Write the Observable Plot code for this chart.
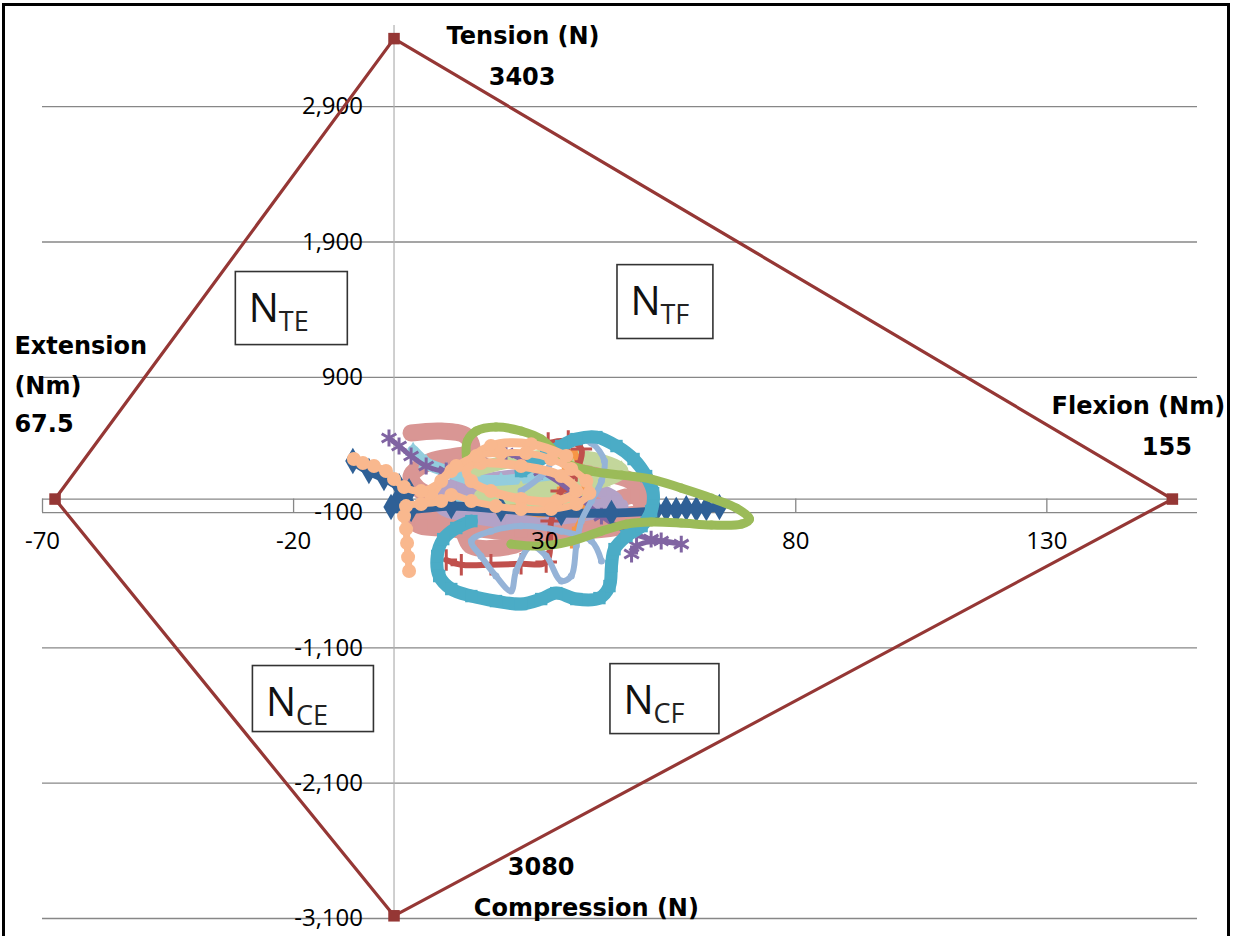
<!DOCTYPE html>
<html>
<head>
<meta charset="utf-8">
<script src="https://cdn.jsdelivr.net/npm/d3@7"></script>
<script src="https://cdn.jsdelivr.net/npm/@observablehq/plot@0.6"></script>
<style>
  html, body { margin: 0; padding: 0; background: #fff; overflow: hidden; }
  #wrap { position: relative; width: 1233px; height: 936px; }
  #frame { position: absolute; left: 2px; top: 3px; width: 1228px; height: 960px;
           border: 3px solid #000; box-sizing: border-box; pointer-events: none; }
  svg { display: block; }
</style>
</head>
<body>
<div id="wrap"><div id="chart"></div><div id="frame"></div></div>
<script>
// ---- axes ----
const xTicks = [-70, -20, 30, 80, 130];
const xTickLabels = ["-70", "-20", "30", "80", "130"];
const yTicks = [2900, 1900, 900, -100, -1100, -2100, -3100];
const yTickLabels = ["2,900", "1,900", "900", "-100", "-1,100", "-2,100", "-3,100"];

// ---- tolerance limits (Extension, Tension, Flexion, Compression) ----
const limitNames = ["Extension", "Tension", "Flexion", "Compression", "Extension"];
const limitX = [-67.5, 0, 155, 0, -67.5];
const limitY = [0, 3403, 0, -3080, 0];

// ---- measured load trajectories (moment Nm, axial force N) ----
const pinkX = [3.4, 9.4, 14.4, 15.4, 7.4, 3.4, 5.4, 13.4, 21.3, 29.3, 37.3, 43.3, 48.3, 49.3, 45.3, 39.3, 33.3, 25.3, 17.3, 11.4, 7.4, 3.4, 5.4, 13.4, 15.4, 23.3, 29.3, 37.3, 45.3, 49.3, 50.2, 47.3, 41.3, 35.3];
const pinkY = [488, 503, 466, 355, 281, 170, 59, -15, -52, -89, -52, -15, 22, -89, -126, -163, -200, -237, -222, -163, -103, -148, -200, -237, -347, -347, -251, -237, -200, -126, 22, 133, 192, 207];

const lavenderX = [17.3, 25.3, 33.3, 41.3, 44.3, 39.3, 31.3, 23.3, 15.4, 11.4, 9.4, 15.4, 23.3, 31.3, 39.3, 45.3];
const lavenderY = [133, 170, 148, 59, -15, -52, -15, 22, 59, 96, -52, -126, -163, -148, -103, -52];

const lightTealX = [3.8, 6.4, 10.4, 15.4, 21.3, 27.3, 33.3, 39.3, 33.3, 25.3, 17.3, 11.4];
const lightTealY = [355, 266, 207, 148, 133, 148, 118, 96, 22, -15, -30, 0];

const lightGreenX = [15.4, 23.3, 33.3, 41.3, 45.3, 41.3, 33.3, 25.3, 17.3, 21.3, 29.3, 37.3];
const lightGreenY = [207, 281, 318, 281, 207, 133, 96, 59, 22, -52, -15, 22];

const orangeX = [21.3, 23.9, 29.3, 33.3, 34.3, 35.7, 37.3, 38.3, 36.3, 35.9];
const orangeY = [-89, -74, -103, 59, 244, 340, 207, -52, -237, -333];

const redX = [30.7, 34.7, 37.3, 36.3, 33.3, 31.3, 30.3, 25.3, 19.3, 13.4, 10.4];
const redY = [414, 429, 370, 207, 59, -163, -465, -478, -485, -485, -450];

const purpleX = [-1.0, 1.0, 3.4, 6.4, 10.4, 17.3, 22.3, 29.3, 35.3, 41.3, 46.3, 51.2, 57.2, 53.2, 48.3, 47.3];
const purpleY = [451, 392, 318, 244, 207, 318, 340, 207, 59, -126, -237, -296, -333, -310, -347, -406];

const blueX = [-8.2, -5.0, -2.0, 1.0, 3.0, 0.8, -0.6, 3.4, 11.4, 21.3, 33.3, 43.3, 51.2, 52.2, 54.2, 56.2, 58.2, 60.2, 62.2, 64.8];
const blueY = [281, 207, 155, 96, 59, 0, -59, -74, -52, -74, -103, -103, -89, -81, -74, -81, -67, -74, -67, -59];

const lightBlueX = [25.3, 30.3, 32.3, 35.3, 39.3, 41.9, 41.3, 39.3, 37.3, 36.3, 35.3, 33.3, 30.3, 27.3, 24.3, 23.3, 20.3, 17.3, 15.4, 19.3, 25.3, 33.3, 39.3, 41.3];
const lightBlueY = [59, 207, 355, 443, 414, 281, 133, -15, -163, -347, -569, -606, -421, -347, -532, -680, -569, -421, -310, -237, -200, -237, -310, -458];

const tealX = [25.3, 30.3, 33.3, 36.3, 40.3, 44.3, 47.7, 50.2, 51.6, 51.2, 49.3, 46.3, 43.9, 43.3, 42.9, 40.9, 36.3, 32.3, 29.3, 25.3, 20.3, 15.4, 11.4, 9.0, 8.6, 9.8, 12.4, 15.4];
const tealY = [207, 318, 392, 443, 458, 392, 296, 170, 44, -89, -200, -273, -370, -495, -643, -732, -739, -695, -739, -776, -754, -717, -665, -569, -421, -296, -214, -163];

const greenX = [14.4, 14.6, 16.4, 20.3, 25.3, 29.3, 31.9, 34.3, 39.3, 45.3, 51.2, 57.2, 63.2, 68.2, 70.8, 69.2, 63.2, 57.2, 51.2, 46.3, 41.3, 35.3, 29.3, 23.3];
const greenY = [318, 429, 503, 532, 503, 443, 355, 266, 207, 177, 148, 81, 7, -67, -148, -185, -192, -177, -170, -185, -237, -310, -347, -333];

const peachX = [-8.0, -6.2, -4.0, -1.6, 0, 2.0, 5.4, 9.4, 12.4, 16.4, 21.3, 26.3, 31.3, 35.3, 38.3, 38.9, 36.3, 31.3, 25.3, 20.3, 15.4, 11.4, 9.4, 5.4, 2.4, 2.0, 2.4, 2.6, 2.8, 3.0];
const peachY = [296, 266, 244, 207, 148, 89, 59, 133, 244, 318, 340, 340, 296, 222, 133, 44, -37, -74, -74, -52, -15, 30, -15, -37, -52, -126, -222, -325, -429, -532];

const peach2X = [7.4, 11.4, 17.3, 25.3, 33.3, 36.3, 32.3, 25.3, 19.3, 15.4, 14.4, 19.3, 27.3, 34.3];
const peach2Y = [22, 207, 266, 244, 170, 59, -15, 0, 59, 133, 244, 392, 406, 318];

// ---- region boxes ----
const regionSub = ["TE", "TF", "CE", "CF"];
const regionX1 = [-31.5, 44.5, -28.1, 43.1];
const regionX2 = [-9.2, 63.6, -4.0, 64.8];
const regionYTop = [1678, 1729, -1234, -1220];
const regionYBottom = [1138, 1183, -1722, -1737];

// ---- limit annotations ----
const noteText = ["Tension (N)", "3403", "Extension", "(Nm)", "67.5", "Flexion (Nm)", "155", "3080", "Compression (N)"];
const noteX = [25.7, 25.5, -75.6, -75.6, -75.6, 165.5, 153.9, 29.3, 38.3];
const noteY = [3422, 3119, 1131, 835, 554, 687, 384, -2720, -3023];
const noteAnchor = ["middle", "middle", "start", "start", "start", "end", "middle", "middle", "middle"];

// ---- build tables ----
const seriesList = [
  ["pink", pinkX, pinkY], ["lavender", lavenderX, lavenderY], ["lightTeal", lightTealX, lightTealY],
  ["lightGreen", lightGreenX, lightGreenY], ["orange", orangeX, orangeY], ["red", redX, redY],
  ["purple", purpleX, purpleY], ["blue", blueX, blueY], ["lightBlue", lightBlueX, lightBlueY],
  ["teal", tealX, tealY], ["green", greenX, greenY], ["peach2", peach2X, peach2Y], ["peach", peachX, peachY]
];
const styles = {
  pink:       {color: "#D99694", symbol: "square",   w: 17, r: 7},
  lavender:   {color: "#B3A2C7", symbol: "square",   w: 14, r: 6},
  lightTeal:  {color: "#93CDDD", symbol: "triangle", w: 12, r: 6},
  lightGreen: {color: "#C3D69B", symbol: "triangle", w: 14, r: 7},
  orange:     {color: "#F79646", symbol: "square",   w: 7,  r: 5},
  red:        {color: "#C0504D", symbol: "plus",     w: 6,  r: 7},
  purple:     {color: "#8064A2", symbol: "asterisk", w: 5,  r: 8},
  blue:       {color: "#2F6096", symbol: "diamond",  w: 9,  r: 8},
  lightBlue:  {color: "#95B3D7", symbol: "circle",   w: 6,  r: 3.5},
  teal:       {color: "#4BACC6", symbol: "square",   w: 13, r: 7},
  green:      {color: "#9BBB59", symbol: "circle",   w: 9,  r: 4.5},
  peach2:     {color: "#F9B88E", symbol: "circle",   w: 9,  r: 7},
  peach:      {color: "#F9B88E", symbol: "circle",   w: 7,  r: 7}
};

const limits = limitX.map((x, i) => ({name: limitNames[i], x, y: limitY[i]}));
const regions = regionSub.map((s, i) => ({sub: s, x1: regionX1[i], x2: regionX2[i], yTop: regionYTop[i], yBottom: regionYBottom[i]}));
const notes = noteText.map((t, i) => ({text: t, x: noteX[i], y: noteY[i], anchor: noteAnchor[i]}));

const seriesMarks = [];
for (const [key, xs, ys] of seriesList) {
  const st = styles[key];
  const rows = xs.map((x, i) => ({x, y: ys[i]}));
  seriesMarks.push(Plot.line(rows, {x: "x", y: "y", stroke: st.color, strokeWidth: st.w, curve: "catmull-rom", strokeLinejoin: "round", strokeLinecap: "round"}));
  const hollow = ["plus", "asterisk", "times"].includes(st.symbol);
  seriesMarks.push(Plot.dot(rows, hollow
    ? {x: "x", y: "y", symbol: st.symbol, r: st.r, stroke: st.color, strokeWidth: 3}
    : {x: "x", y: "y", symbol: st.symbol, r: st.r, fill: st.color, stroke: "none"}));
}

const font = "'Open Sans', 'DejaVu Sans', sans-serif";
const boldFont = "'DejaVu Sans', sans-serif";
const gridColor = "#878787";

const noteMarks = ["start", "middle", "end"].map(a =>
  Plot.text(notes.filter(d => d.anchor === a), {x: "x", y: "y", text: "text", textAnchor: a,
    fontSize: 24, fontWeight: "bold", fontFamily: boldFont, fill: "#000"}));

const chart = Plot.plot({
  width: 1233,
  height: 936,
  marginLeft: 42,
  marginRight: 36,
  marginTop: 25,
  marginBottom: 18,
  style: {fontFamily: font, background: "transparent", overflow: "visible"},
  x: {domain: [-70, 160], axis: null},
  y: {domain: [-3100, 3500], axis: null},
  marks: [
    Plot.ruleY(yTicks, {x1: -70, x2: 160, stroke: gridColor, strokeWidth: 1.3}),
    Plot.ruleY([0], {x1: -70, x2: 160, stroke: gridColor, strokeWidth: 1.3}),
    Plot.ruleX(xTicks, {y1: 0, y2: -100, stroke: gridColor, strokeWidth: 1.3}),
    Plot.ruleX([0], {y1: -3100, y2: 3500, stroke: "#b0b0b0", strokeWidth: 1.2}),
    ...seriesMarks,
    Plot.text(xTicks, {x: d => d, y: 0, dy: 42, text: (d, i) => xTickLabels[i], fontSize: 24, fill: "#000"}),
    Plot.text(yTicks, {x: 0, y: d => d, dx: -31, textAnchor: "end", text: (d, i) => yTickLabels[i], fontSize: 24, fill: "#000"}),
    Plot.line(limits, {x: "x", y: "y", stroke: "#953735", strokeWidth: 3.2}),
    Plot.dot(limits.slice(0, 4), {x: "x", y: "y", symbol: "square", r: 6.5, fill: "#953735", stroke: "none"}),
    Plot.rect(regions, {x1: "x1", x2: "x2", y1: "yBottom", y2: "yTop", fill: "#fff", stroke: "#333", strokeWidth: 1.6}),
    Plot.text(regions, {x: "x1", y: "yTop", text: () => "N", textAnchor: "start", dx: 13, dy: 37, fontSize: 40, fill: "#111"}),
    Plot.text(regions, {x: "x1", y: "yTop", text: "sub", textAnchor: "start", dx: 43, dy: 50, fontSize: 27, fill: "#222"}),
    ...noteMarks
  ]
});
document.getElementById("chart").appendChild(chart);
</script>
</body>
</html>
